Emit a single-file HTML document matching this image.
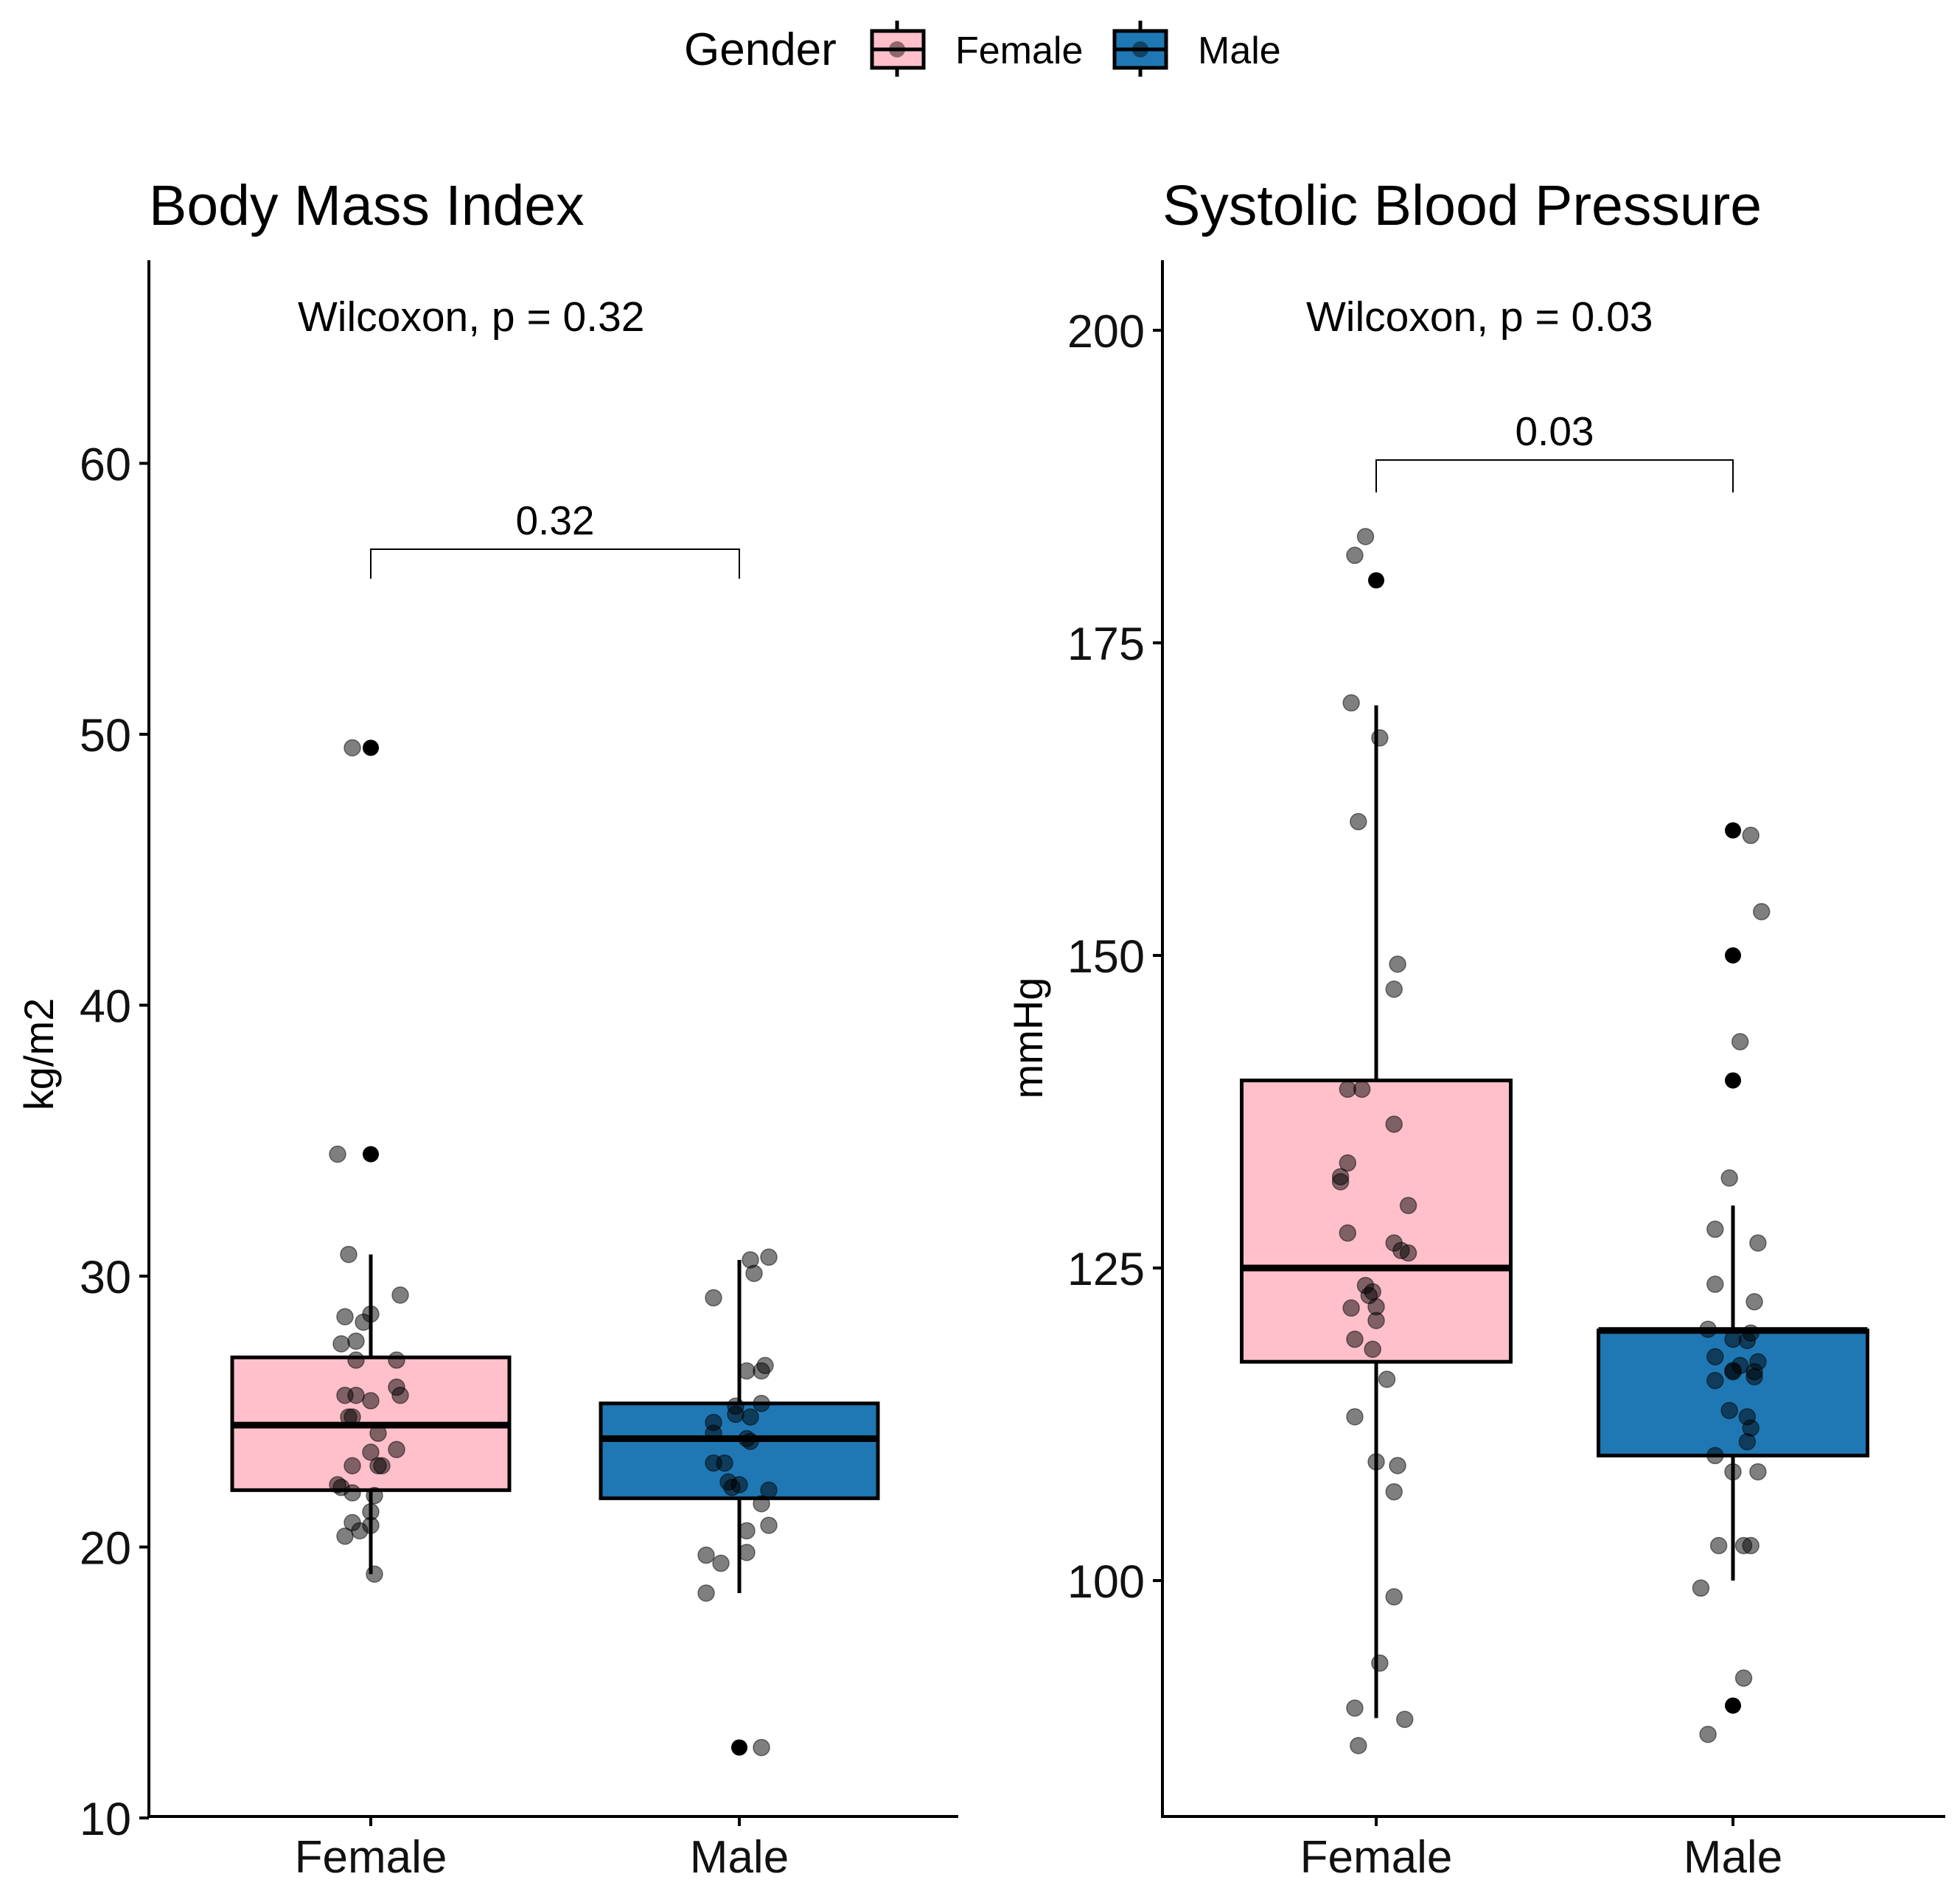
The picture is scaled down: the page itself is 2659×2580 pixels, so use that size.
<!DOCTYPE html>
<html><head><meta charset="utf-8"><style>
html,body{margin:0;padding:0;background:#fff}
svg{display:block;font-family:"Liberation Sans",Arial,sans-serif}
</style></head><body>
<svg id="chart" width="2659" height="2580" viewBox="0 0 2659 2580" xmlns="http://www.w3.org/2000/svg">
<rect width="2659" height="2580" fill="#fff"/>
<g id="legend">
  <text x="928" y="88" font-size="62">Gender</text>
  <g>
    <line x1="1217" y1="28" x2="1217" y2="104" stroke="#000" stroke-width="5"/>
    <rect x="1183" y="42" width="70" height="50" fill="#FFC0CB" stroke="#000" stroke-width="5"/>
    <line x1="1183" y1="67" x2="1253" y2="67" stroke="#000" stroke-width="5"/>
    <circle cx="1217" cy="67" r="11" fill="#000" fill-opacity="0.45"/>
    <text x="1296" y="86" font-size="52">Female</text>
  </g>
  <g>
    <line x1="1547" y1="28" x2="1547" y2="104" stroke="#000" stroke-width="5"/>
    <rect x="1512" y="42" width="70" height="50" fill="#1F78B4" stroke="#000" stroke-width="5"/>
    <line x1="1512" y1="67" x2="1582" y2="67" stroke="#000" stroke-width="5"/>
    <circle cx="1547" cy="67" r="11" fill="#000" fill-opacity="0.45"/>
    <text x="1625" y="86" font-size="52">Male</text>
  </g>
</g>
</svg>
<script>
// ---- data ----
const categories = ["Female","Male"];
const bmiTicks = [10,20,30,40,50,60];
const sbpTicks = [100,125,150,175,200];
const bmiBoxF = [19.0,22.1,24.5,27.0,30.8];
const bmiBoxM = [18.3,21.8,24.0,25.3,30.6];
const sbpBoxF = [89,117.5,125,140,170];
const sbpBoxM = [100,110,120,120,130];
const bmiOutF = [49.5,34.5];
const bmiOutM = [12.6];
const sbpOutF = [180];
const sbpOutM = [160,150,140,90];
const bmiPtsF = [49.5,34.5,30.8,29.3,28.5,28.6,28.3,27.5,27.6,26.9,26.9,25.9,25.6,25.6,25.6,25.4,24.8,24.8,24.2,23.5,23.6,23.0,23.0,23.0,22.3,22.2,22.0,21.9,21.3,20.8,20.9,20.6,20.4,19.0];
const bmiJitF = [-0.05,-0.09,-0.06,0.08,-0.07,0,-0.02,-0.08,-0.04,0.07,-0.04,0.07,0.08,-0.07,-0.04,0,-0.05,-0.06,0.02,0,0.07,0.02,0.03,-0.05,-0.09,-0.08,-0.05,0.01,0,0,-0.05,-0.03,-0.07,0.01];
const bmiPtsM = [30.6,30.7,30.1,29.2,26.7,26.5,26.5,25.3,25.2,24.9,24.6,24.8,24.2,24.0,23.9,23.1,23.1,22.4,22.2,22.3,22.1,21.6,20.6,20.8,19.7,19.4,19.8,18.3,12.6];
const bmiJitM = [0.03,0.08,0.04,-0.07,0.07,0.06,0.02,0.06,-0.01,-0.01,-0.07,0.03,-0.07,0.02,0.03,-0.07,-0.04,-0.03,-0.02,0,0.08,0.06,0.02,0.08,-0.09,-0.05,0.02,-0.09,0.06];
const sbpPtsF = [183.5,182,170.2,167.4,160.7,149.3,147.3,139.3,139.3,136.5,133.4,131.9,132.3,130,127.8,127,126.4,126.2,123.6,123.1,122.8,121.8,121.9,120.8,119.3,118.5,116.1,113.1,109.5,109.2,107.1,98.7,93.4,89.8,88.9,86.8];
const sbpJitF = [-0.03,-0.06,-0.07,0.01,-0.05,0.06,0.05,-0.08,-0.04,0.05,-0.08,-0.1,-0.1,0.09,-0.08,0.05,0.07,0.09,-0.03,-0.01,-0.02,-0.07,0,0,-0.06,-0.01,0.03,-0.06,0,0.06,0.05,0.05,0.01,-0.06,0.08,-0.05];
const sbpPtsM = [159.6,153.5,143.1,132.2,128.1,127,123.7,122.3,120.1,119.8,119.3,119.2,117.9,117.5,117.2,116.8,116.7,116.7,116,116.3,113.6,113.1,112.2,111.1,110,108.7,108.7,102.8,102.8,102.8,99.4,92.2,87.7];
const sbpJitM = [0.05,0.08,0.02,-0.01,-0.05,0.07,-0.05,0.06,-0.07,0.05,0,0.04,-0.05,0.07,0.02,0,0,0.06,-0.05,0.06,-0.01,0.04,0.05,0.04,-0.05,0,0.07,-0.04,0.03,0.05,-0.09,0.03,-0.07];

const NS = "http://www.w3.org/2000/svg";
const svg = document.getElementById("chart");
function mk(tag, attrs, parent, txt){
  const e = document.createElementNS(NS, tag);
  for (const k in attrs) e.setAttribute(k, attrs[k]);
  if (txt !== undefined) e.textContent = txt;
  (parent||svg).appendChild(e);
  return e;
}

function panel(cfg){
  const g = mk("g", {});
  
  
  const y = v => cfg.y0 - (v - cfg.v0) * cfg.k;
  const x = i => cfg.xc[i];
  const sp = cfg.xc[1] - cfg.xc[0];
  const bw = cfg.bw;
  const t = mk("text", {x: cfg.ax, y: 305, "font-size": 77}, g, cfg.title);
  
  
  const ya = mk("line", {x1: cfg.ax, y1: 353, x2: cfg.ax, y2: 2466, stroke: "#000", "stroke-width": 4}, g);
  
  
  const xa = mk("line", {x1: cfg.ax - 2, y1: 2464, x2: cfg.axEnd, y2: 2464, stroke: "#000", "stroke-width": 4}, g);
  
  
  cfg.ticks.forEach(v => {
    const tk = mk("line", {x1: cfg.ax - 13, y1: y(v), x2: cfg.ax, y2: y(v), stroke: "#000", "stroke-width": 4}, g);
    
    
    const tl = mk("text", {x: cfg.ax - 24, y: y(v) + 23, "font-size": 63, "text-anchor": "end", fill: "#111"}, g, String(v));
    
    
  });
  categories.forEach((c, i) => {
    const tk = mk("line", {x1: x(i), y1: 2464, x2: x(i), y2: 2477, stroke: "#000", "stroke-width": 4}, g);
    
    
    const tl = mk("text", {x: x(i), y: 2540, "font-size": 62, "text-anchor": "middle", fill: "#111"}, g, c);
    
    
  });
  const yt = mk("text", {x: 0, y: 0, "font-size": 56, "text-anchor": "middle", transform: `translate(${cfg.ytx},${cfg.yty}) rotate(-90)`}, g, cfg.ytitle);
  
  
  const fills = ["#FFC0CB", "#1F78B4"];
  [cfg.boxF, cfg.boxM].forEach((b, i) => {
    const wh = mk("line", {x1: x(i), y1: y(b[0]), x2: x(i), y2: y(b[4]), stroke: "#000", "stroke-width": 5}, g);
    
    
    const r = mk("rect", {x: x(i) - bw/2, y: y(b[3]), width: bw, height: y(b[1]) - y(b[3]), fill: fills[i], stroke: "#000", "stroke-width": 5}, g);
    
    
    const md = mk("line", {x1: x(i) - bw/2, y1: y(b[2]), x2: x(i) + bw/2, y2: y(b[2]), stroke: "#000", "stroke-width": 9}, g);
    
    
  });
  [cfg.outF, cfg.outM].forEach((arr, i) => arr.forEach(v => {
    const c = mk("circle", {cx: x(i), cy: y(v), r: 11, fill: "#000"}, g);
    
    
  }));
  [[cfg.ptsF, cfg.jitF], [cfg.ptsM, cfg.jitM]].forEach((pair, i) => pair[0].forEach((v, j) => {
    const c = mk("circle", {cx: x(i) + pair[1][j] * sp, cy: y(v), r: 11, fill: "#000", "fill-opacity": 0.5, stroke: "#000", "stroke-opacity": 0.5, "stroke-width": 1.5}, g);
    
    
  }));
  const w = mk("text", {x: cfg.wx, y: 449, "font-size": 57}, g, cfg.wtext);
  
  
  const br = mk("path", {d: `M${x(0)},${cfg.brB} V${cfg.brT} H${x(1)} V${cfg.brB}`, fill: "none", stroke: "#000", "stroke-width": 2}, g);
  
  
  const bl = mk("text", {x: (x(0) + x(1)) / 2, y: cfg.brT - 20, "font-size": 55, "text-anchor": "middle"}, g, cfg.plabel);
  
  
}

panel({name: "bmi-panel", title: "Body Mass Index", ax: 202, axEnd: 1300, xc: [503, 1003], bw: 376,
  y0: 2466, v0: 10, k: 36.75, ticks: bmiTicks, ytitle: "kg/m2", ytx: 72, yty: 1430,
  boxF: bmiBoxF, boxM: bmiBoxM, outF: bmiOutF, outM: bmiOutM,
  ptsF: bmiPtsF, jitF: bmiJitF, ptsM: bmiPtsM, jitM: bmiJitM,
  wx: 404, wtext: "Wilcoxon, p = 0.32", brT: 745, brB: 785, plabel: "0.32"});
panel({name: "sbp-panel", title: "Systolic Blood Pressure", ax: 1577, axEnd: 2639, xc: [1867, 2351], bw: 365,
  y0: 2144, v0: 100, k: 16.96, ticks: sbpTicks, ytitle: "mmHg", ytx: 1414, yty: 1408,
  boxF: sbpBoxF, boxM: sbpBoxM, outF: sbpOutF, outM: sbpOutM,
  ptsF: sbpPtsF, jitF: sbpJitF, ptsM: sbpPtsM, jitM: sbpJitM,
  wx: 1772, wtext: "Wilcoxon, p = 0.03", brT: 624, brB: 668, plabel: "0.03"});
</script>
</body></html>
